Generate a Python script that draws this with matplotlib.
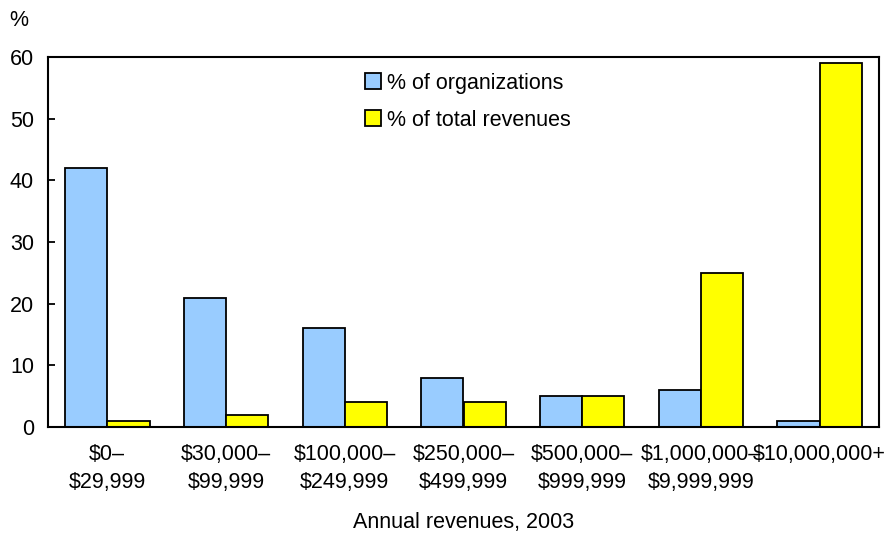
import numpy as np
import matplotlib.pyplot as plt

plt.rcParams['font.family'] = ['Liberation Sans', 'DejaVu Sans']

categories = ['$0–\n$29,999', '$30,000–\n$99,999', '$100,000–\n$249,999',
              '$250,000–\n$499,999', '$500,000–\n$999,999',
              '$1,000,000–\n$9,999,999', '$10,000,000+']
pct_orgs = [42, 21, 16, 8, 5, 6, 1]
pct_revenues = [1, 2, 4, 4, 5, 25, 59]

fig = plt.figure(figsize=(8.91, 5.33), dpi=100)
ax = fig.add_axes([48/891, 1 - 427/533, 831/891, 370/533])

x = np.arange(len(categories))
w = 0.355
ax.bar(x - w/2, pct_orgs, w, color='#99ccff', edgecolor='black', linewidth=1.3,
       label='% of organizations')
ax.bar(x + w/2, pct_revenues, w, color='#ffff00', edgecolor='black', linewidth=1.3,
       label='% of total revenues')

ax.set_xlim(-0.5, len(categories) - 0.5)
ax.set_ylim(0, 60)
ax.set_yticks(range(0, 61, 10))
ax.set_xticks(x)
ax.set_xticklabels(categories, fontsize=15.5, linespacing=1.45)
ax.tick_params(axis='x', length=0, pad=12)
ax.tick_params(axis='y', direction='in', length=5, width=1.3, labelsize=15.5, pad=10)
for s in ax.spines.values():
    s.set_linewidth(1.5)

ax.set_xlabel('Annual revenues, 2003', fontsize=15.5, labelpad=14)
fig.text(9/891, 1 - 20/533, '%', fontsize=15.5, va='center')

ax.legend(loc='upper left', bbox_to_anchor=(0.358, 1.01), frameon=False, fontsize=15.5,
          handlelength=0.75, handleheight=0.75, handletextpad=0.3, labelspacing=0.75)

fig.savefig('out.png', dpi=100)
